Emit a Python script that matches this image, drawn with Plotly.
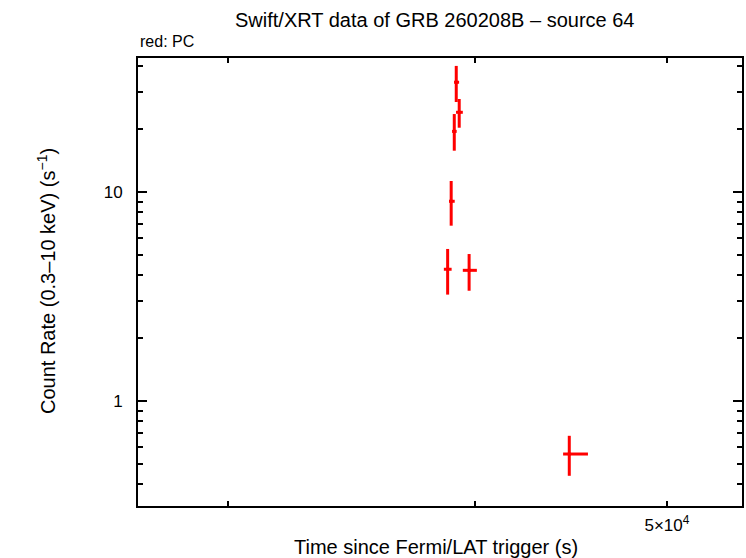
import plotly.graph_objects as go

# Data (time since trigger in s, count rate in s^-1)
t = [39130, 39265, 39040, 38900, 38740, 39720, 44630]
t_lo = [39030, 39120, 38940, 38800, 38570, 39430, 44310]
t_hi = [39260, 39430, 39150, 39060, 38920, 40080, 45610]
rate = [33.5, 24.06, 19.5, 9.03, 4.27, 4.22, 0.558]
rate_lo = [26.95, 20.3, 15.76, 6.90, 3.23, 3.37, 0.439]
rate_hi = [40.1, 27.86, 23.6, 11.29, 5.34, 5.05, 0.682]

x_ticks = [50000]
x_ticklabels = ["5×10<sup>4</sup>"]
x_minor = [30000, 40000]
y_ticks = [1, 10]
y_ticklabels = ["1", "10"]
y_minor = [0.4, 0.5, 0.6, 0.7, 0.8, 0.9, 2, 3, 4, 5, 6, 7, 8, 9, 20, 30, 40]

fig = go.Figure()
fig.add_trace(go.Scatter(
    x=t, y=rate, mode="markers",
    marker=dict(color="red", size=3, symbol="square"),
    error_x=dict(type="data", symmetric=False,
                 array=[h - v for h, v in zip(t_hi, t)],
                 arrayminus=[v - l for v, l in zip(t, t_lo)],
                 color="red", thickness=3, width=0),
    error_y=dict(type="data", symmetric=False,
                 array=[h - v for h, v in zip(rate_hi, rate)],
                 arrayminus=[v - l for v, l in zip(rate, rate_lo)],
                 color="red", thickness=3, width=0),
    showlegend=False,
))

font = "Liberation Sans, Arial, Helvetica, sans-serif"
fig.update_layout(
    width=746, height=558,
    margin=dict(l=138, r=4, t=58, b=52, autoexpand=False),
    paper_bgcolor="white", plot_bgcolor="white",
    font=dict(family=font, size=17, color="black"),
    annotations=[
        dict(text="Swift/XRT data of GRB 260208B – source 64", xref="paper", yref="paper",
             x=(435 - 138) / 604, y=1 + (58 - 20) / 448, xanchor="center", yanchor="middle",
             showarrow=False, font=dict(size=20)),
        dict(text="red: PC", xref="paper", yref="paper",
             x=0, y=1 + (58 - 42) / 448, xanchor="left", yanchor="middle",
             showarrow=False, font=dict(size=16)),
        dict(text="Time since Fermi/LAT trigger (s)", xref="paper", yref="paper",
             x=(436 - 138) / 604, y=-(547 - 506) / 448, xanchor="center", yanchor="middle",
             showarrow=False, font=dict(size=20)),
        dict(text="Count Rate (0.3–10 keV) (s<sup>−1</sup>)", xref="paper", yref="paper",
             x=-(138 - 46) / 604, y=(506 - 281) / 448, xanchor="center", yanchor="middle",
             textangle=-90, showarrow=False, font=dict(size=20)),
    ],
)
fig.update_xaxes(
    type="log", range=[4.4317, 4.7369], automargin=False,
    tickvals=x_ticks, ticktext=x_ticklabels, ticklabelstandoff=3,
    ticks="inside", ticklen=5, tickwidth=2, tickcolor="black",
    minor=dict(tickvals=x_minor, ticks="inside", ticklen=5, tickwidth=2, tickcolor="black"),
    showline=True, linewidth=2, linecolor="black", mirror="ticks",
    showgrid=False, zeroline=False,
)
fig.update_yaxes(
    type="log", range=[-0.502, 1.641], automargin=False,
    tickvals=y_ticks, ticktext=y_ticklabels, ticklabelstandoff=10,
    ticks="inside", ticklen=9, tickwidth=2, tickcolor="black",
    minor=dict(tickvals=y_minor, ticks="inside", ticklen=5, tickwidth=2, tickcolor="black"),
    showline=True, linewidth=2, linecolor="black", mirror="ticks",
    showgrid=False, zeroline=False,
)
fig.write_html("out.html", config={"displayModeBar": False},
               post_script="document.body.style.margin='0';document.body.style.padding='0';")
